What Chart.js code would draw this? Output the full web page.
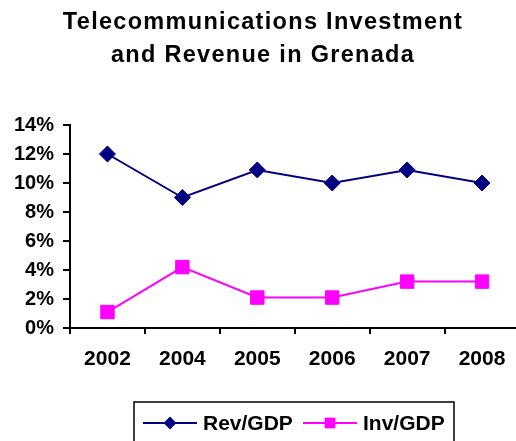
<!DOCTYPE html>
<html>
<head>
<meta charset="utf-8">
<script src="https://cdn.jsdelivr.net/npm/chart.js@4.4.0/dist/chart.umd.min.js"></script>
<style>
  html, body { margin: 0; padding: 0; background: #fff; overflow: hidden; }
  #wrap { width: 530px; height: 441px; }
</style>
</head>
<body>
<div id="wrap"><canvas id="c" width="530" height="441"></canvas></div>
<script>
const TITLE_LINES = ['Telecommunications Investment', 'and Revenue in Grenada'];
const CATEGORIES = ['2002', '2004', '2005', '2006', '2007', '2008'];
const REV_GDP = [0.12, 0.09, 0.109, 0.10, 0.109, 0.10];
const INV_GDP = [0.011, 0.042, 0.021, 0.021, 0.032, 0.032];
const SERIES_NAMES = ['Rev/GDP', 'Inv/GDP'];
const Y_MIN = 0, Y_MAX = 0.14, Y_STEP = 0.02;

const FONT = '"Liberation Sans", Arial, sans-serif';
const NAVY = '#000080';
const MAGENTA = '#FF00FF';

const titlePlugin = {
  id: 'customTitle',
  afterDraw(chart) {
    const ctx = chart.ctx;
    ctx.save();
    ctx.fillStyle = '#000';
    ctx.font = 'bold 23.5px ' + FONT;
    ctx.textAlign = 'center';
    ctx.textBaseline = 'alphabetic';
    if ('letterSpacing' in ctx) ctx.letterSpacing = '1.3px';
    const cx = 263;
    ctx.fillText(TITLE_LINES[0], cx, 29);
    ctx.fillText(TITLE_LINES[1], cx, 62);
    ctx.restore();
  }
};

const legendPlugin = {
  id: 'customLegend',
  afterDraw(chart) {
    const ctx = chart.ctx;
    ctx.save();
    ctx.strokeStyle = '#000';
    ctx.lineWidth = 1.5;
    ctx.strokeRect(134, 402, 320, 60);
    const items = [
      { x0: 143, x1: 197, tx: 203, ds: chart.data.datasets[0] },
      { x0: 303, x1: 357, tx: 363, ds: chart.data.datasets[1] }
    ];
    const y = 423;
    items.forEach(it => {
      ctx.strokeStyle = it.ds.borderColor;
      ctx.lineWidth = 2;
      ctx.beginPath();
      ctx.moveTo(it.x0, y);
      ctx.lineTo(it.x1, y);
      ctx.stroke();
      ctx.fillStyle = it.ds.borderColor;
      ctx.beginPath();
      const r = it.ds.pointRadius * 0.8;
      const cx = (it.x0 + it.x1) / 2;
      if (it.ds.pointStyle === 'rectRot') {
        ctx.moveTo(cx, y - r); ctx.lineTo(cx + r, y); ctx.lineTo(cx, y + r); ctx.lineTo(cx - r, y); ctx.closePath();
      } else {
        const s = r * Math.SQRT1_2;
        ctx.rect(cx - s, y - s, 2 * s, 2 * s);
      }
      ctx.fill();
      ctx.fillStyle = '#000';
      ctx.font = 'bold 21px ' + FONT;
      ctx.textAlign = 'left';
      ctx.textBaseline = 'middle';
      ctx.fillText(it.ds.label, it.tx, y + 1);
    });
    ctx.restore();
  }
};

new Chart(document.getElementById('c'), {
  type: 'line',
  data: {
    labels: CATEGORIES,
    datasets: [
      {
        label: SERIES_NAMES[0],
        data: REV_GDP,
        borderColor: NAVY,
        backgroundColor: NAVY,
        borderWidth: 2,
        pointStyle: 'rectRot',
        pointRadius: 8,
        pointBackgroundColor: NAVY,
        pointBorderColor: NAVY,
        pointBorderWidth: 1,
        tension: 0,
        fill: false
      },
      {
        label: SERIES_NAMES[1],
        data: INV_GDP,
        borderColor: MAGENTA,
        backgroundColor: MAGENTA,
        borderWidth: 2,
        pointStyle: 'rect',
        pointRadius: 9.5,
        pointBackgroundColor: MAGENTA,
        pointBorderColor: MAGENTA,
        pointBorderWidth: 1,
        tension: 0,
        fill: false
      }
    ]
  },
  options: {
    responsive: false,
    animation: false,
    layout: { padding: { top: 125, left: 0, right: 7, bottom: 0 } },
    plugins: {
      legend: { display: false },
      title: { display: false },
      tooltip: { enabled: false }
    },
    scales: {
      x: {
        type: 'category',
        offset: true,
        grid: { drawOnChartArea: false, drawTicks: true, tickLength: 6, color: '#000', lineWidth: 2, offset: true },
        border: { display: true, color: '#000', width: 2 },
        ticks: { color: '#000', font: { family: FONT, size: 21, weight: 'bold' }, padding: 13, maxRotation: 0, autoSkip: false },
        afterFit(s) { s.height = 113; }
      },
      y: {
        min: Y_MIN,
        max: Y_MAX,
        grid: { drawOnChartArea: false, drawTicks: true, tickLength: 7, color: '#000', lineWidth: 2 },
        border: { display: true, color: '#000', width: 2 },
        ticks: {
          stepSize: Y_STEP,
          color: '#000',
          font: { family: FONT, size: 20, weight: 'bold' },
          padding: 9,
          callback: v => Math.round(v * 100) + '%'
        },
        afterFit(s) { s.width = 70; }
      }
    }
  },
  plugins: [titlePlugin, legendPlugin]
});
</script>
</body>
</html>
